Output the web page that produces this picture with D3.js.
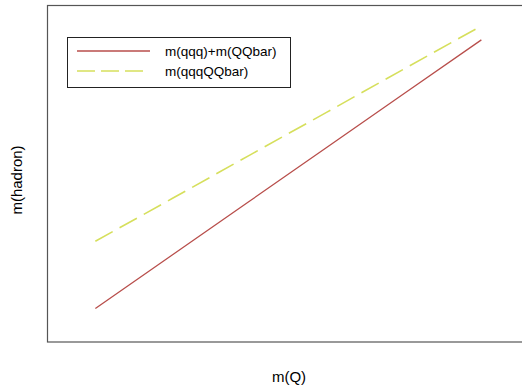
<!DOCTYPE html>
<html>
<head>
<meta charset="utf-8">
<script src="https://cdn.jsdelivr.net/npm/d3@7"></script>
<style>
  body { margin: 0; background: #fff; }
  text { font-family: "Liberation Sans", Arial, sans-serif; fill: #000; }
</style>
</head>
<body>
<div id="chart"></div>
<script>
// data
const massQ = [1, 2, 3, 4, 5, 6];
const sumSeparate = [1.25, 3.25, 5.25, 7.25, 9.25, 11.25];   // m(qqq)+m(QQbar)
const pentaquark = [3.75, 5.35, 6.96, 8.56, 10.17, 11.77];    // m(qqqQQbar)
const seriesNames = ["m(qqq)+m(QQbar)", "m(qqqQQbar)"];
const colors = ["#b84e4b", "#d6df5c"];

let width = 522, height = 385;
let margin = {top: 5.5, right: -8, bottom: 43, left: 47.5};

let svg = d3.select("#chart")
  .append("svg")
    .attr("width", width)
    .attr("height", height);

let x = d3.scaleLinear()
  .domain([0.38, 6.63])
  .range([margin.left, width - margin.right]);
let y = d3.scaleLinear()
  .domain([0, 12.53])
  .range([height - margin.bottom, margin.top]);

// frame
svg.append("rect")
  .attr("x", margin.left)
  .attr("y", margin.top)
  .attr("width", width - margin.right - margin.left)
  .attr("height", height - margin.bottom - margin.top)
  .attr("fill", "none")
  .attr("stroke", "#555")
  .attr("stroke-width", 1.2);

let line = d3.line()
  .x(function(d, i) { return x(massQ[i]); })
  .y(function(d) { return y(d); });

svg.append("path")
  .datum(sumSeparate)
  .attr("d", line)
  .attr("fill", "none")
  .attr("stroke", colors[0])
  .attr("stroke-width", 1.3);

svg.append("path")
  .datum(pentaquark)
  .attr("d", line)
  .attr("fill", "none")
  .attr("stroke", colors[1])
  .attr("stroke-width", 1.6)
  .attr("stroke-dasharray", "19.8,7.9");

// legend
let legend = svg.append("g");
legend.append("rect")
  .attr("x", 67.5).attr("y", 37.5)
  .attr("width", 223).attr("height", 50)
  .attr("fill", "#fff")
  .attr("stroke", "#222")
  .attr("stroke-width", 1);

seriesNames.forEach(function(name, i) {
  let ly = 51 + i * 20;
  legend.append("line")
    .attr("x1", 77).attr("x2", i === 0 ? 150 : 143)
    .attr("y1", ly).attr("y2", ly)
    .attr("stroke", colors[i])
    .attr("stroke-width", i === 0 ? 1.3 : 1.6)
    .attr("stroke-dasharray", i === 0 ? null : "18,6");
  legend.append("text")
    .attr("x", 165).attr("y", ly + 4.5)
    .style("font-size", "13.5px")
    .text(name);
});

// axis titles
svg.append("text")
  .attr("x", 289).attr("y", 382)
  .attr("text-anchor", "middle")
  .style("font-size", "15px")
  .text("m(Q)");

svg.append("text")
  .attr("transform", "translate(22,180) rotate(-90)")
  .attr("text-anchor", "middle")
  .style("font-size", "15px")
  .text("m(hadron)");
</script>
</body>
</html>
